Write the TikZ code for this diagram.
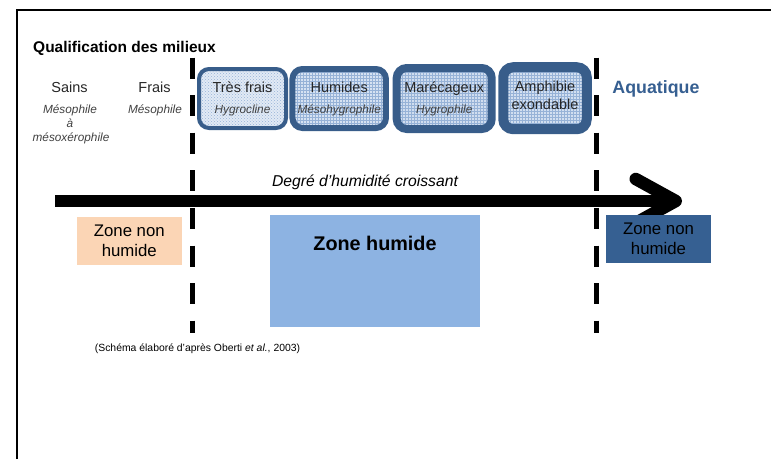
\documentclass[tikz,border=0pt]{standalone}
\usepackage{fontspec}
\setmainfont{Liberation Sans}
\usetikzlibrary{arrows.meta,positioning,patterns}
\definecolor{bordure}{RGB}{56,93,138}
\definecolor{fondA}{RGB}{226,234,245}
\definecolor{fondB}{RGB}{214,226,242}
\definecolor{fondC}{RGB}{208,221,239}
\definecolor{fondD}{RGB}{210,223,240}
\definecolor{trame}{RGB}{150,178,215}
\definecolor{peche}{RGB}{251,213,181}
\definecolor{bleuclair}{RGB}{141,179,226}
\definecolor{bleufonce}{RGB}{54,96,146}
\definecolor{aqua}{RGB}{54,95,145}
\tikzset{
  milieu/.style={
    draw=bordure,
    rectangle,
    rounded corners=10pt,
    inner sep=0pt,
  },
  tramegrille/.style={
    preaction={fill=#1},
    preaction={pattern=grid, pattern color=trame},
  },
  tramepoints/.style={
    preaction={fill=#1},
    preaction={pattern=crosshatch dots, pattern color=trame},
  },
  titre/.style={
    anchor=base,
    inner sep=0pt,
    text=black!85,
    font=\fontsize{14.5}{17}\selectfont,
  },
  sous/.style={
    anchor=base,
    inner sep=0pt,
    text=black!75,
    font=\fontsize{11.8}{14}\selectfont\itshape,
  },
  zone/.style={
    rectangle,
    inner sep=0pt,
    align=center,
    font=\fontsize{16.8}{19.5}\selectfont,
  },
  limite/.style={
    line width=5pt,
    dash pattern=on 21pt off 16.6pt,
  },
  fleche/.style={
    line width=12.5pt,
    -{Straight Barb[length=40pt,width=44pt,round]},
  },
}

\begin{document}
\begin{tikzpicture}[x=1pt,y=-1pt]
    \useasboundingbox (0,0) rectangle (771,459);
    \draw[line width=2pt] (17,459) -- (17,9.5) -- (771,9.5);

    \node[anchor=base west, inner sep=0pt, font=\fontsize{15.5}{18}\selectfont\bfseries]
      (qualif) at (33,52) {Qualification des milieux};

    \coordinate (depart) at (55,201);
    \coordinate (arrivee) at (682,201);
    \draw[fleche] (depart) -- (arrivee);
    \node[anchor=base, inner sep=0pt, font=\fontsize{15.7}{18}\selectfont\itshape]
      (degre) at (365,186) {Degré d’humidité croissant};

    \coordinate (limA) at (192.5,57.5);
    \coordinate (limAbas) at (192.5,333);
    \coordinate (limB) at (596,57.5);
    \coordinate (limBbas) at (596,333);
    \draw[limite] (limA) -- (limAbas);
    \draw[limite] (limB) -- (limBbas);

    \node[titre] (sains) at (69.5,92.5) {Sains};
    \node[sous] (sainsA) at (70,113) {Mésophile};
    \node[sous] (sainsB) at (70,127) {à};
    \node[sous] (sainsC) at (71,141) {mésoxérophile};
    \node[titre] (frais) at (154.5,92.5) {Frais};
    \node[sous] (fraisA) at (155,113) {Mésophile};

    \node[milieu, tramepoints=fondA, line width=4pt, minimum width=87pt, minimum height=59pt]
      (tresfrais) at (242.5,98.5) {};
    \node[milieu, tramegrille=fondB, line width=6pt, minimum width=93.5pt, minimum height=59pt]
      (humides) at (339.2,98.5) {};
    \node[milieu, tramegrille=fondC, line width=8pt, minimum width=95pt, minimum height=61pt]
      (marecageux) at (444.2,98.5) {};
    \node[milieu, tramegrille=fondD, line width=10pt, minimum width=83.5pt, minimum height=62pt]
      (amphibie) at (545,98.2) {};

    \node[titre] at (tresfrais.center |- 0,92) {Très frais};
    \node[sous] at (tresfrais.center |- 0,113) {Hygrocline};
    \node[titre] at (humides.center |- 0,92) {Humides};
    \node[sous] at (humides.center |- 0,113) {Mésohygrophile};
    \node[titre] at (marecageux.center |- 0,92) {Marécageux};
    \node[sous] at (marecageux.center |- 0,113) {Hygrophile};
    \node[titre] at (amphibie.center |- 0,91.5) {Amphibie};
    \node[titre] at (amphibie.center |- 0,109) {exondable};

    \node[anchor=base, inner sep=0pt, text=aqua, font=\fontsize{17.8}{20}\selectfont\bfseries]
      (aquatique) at (656,93) {Aquatique};

    \node[zone, fill=peche, minimum width=105.3pt, minimum height=48.3pt]
      (nonhumideA) at (129.3,240.9) {Zone non\\humide};
    \node[zone, fill=bleuclair, minimum width=210pt, minimum height=111.7pt]
      (humide) at (375,270.8) {};
    \node[zone, below=21.5pt of humide.north, font=\fontsize{19.8}{22}\selectfont\bfseries]
      (humidetxt) {Zone humide};
    \node[zone, fill=bleufonce, minimum width=105pt, minimum height=47.7pt]
      (nonhumideB) at (658.5,238.9) {Zone non\\humide};

    \node[anchor=base, inner sep=0pt, font=\fontsize{10.4}{12}\selectfont]
      (source) at (197.5,351) {(Schéma élaboré d’après Oberti \textit{et al.}, 2003)};
\end{tikzpicture}
\end{document}
